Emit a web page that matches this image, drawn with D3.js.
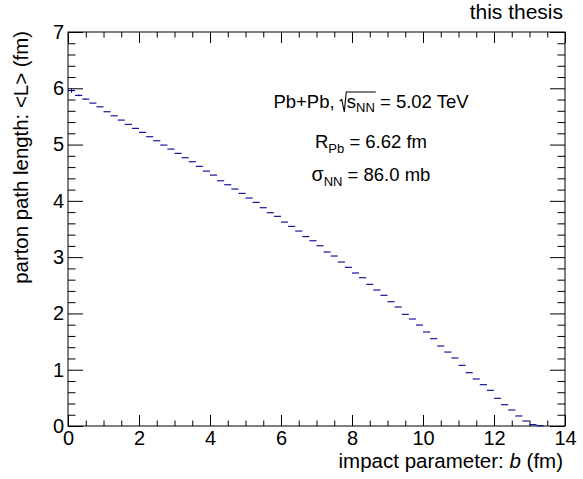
<!DOCTYPE html>
<html><head><meta charset="utf-8">
<script src="https://cdn.jsdelivr.net/npm/d3@7"></script>
<style>body{margin:0;background:#fff}svg{display:block}text{font-family:"Liberation Sans",Arial,Helvetica,sans-serif}</style>
</head><body>
<script>
// bin lower edges of b (fm), bin width 0.2 fm
const binLow = [0.0,0.2,0.4,0.6,0.8,1.0,1.2,1.4,1.6,1.8,2.0,2.2,2.4,2.6,2.8,3.0,3.2,3.4,3.6,3.8,4.0,4.2,4.4,4.6,4.8,5.0,5.2,5.4,5.6,5.8,6.0,6.2,6.4,6.6,6.8,7.0,7.2,7.4,7.6,7.8,8.0,8.2,8.4,8.6,8.8,9.0,9.2,9.4,9.6,9.8,10.0,10.2,10.4,10.6,10.8,11.0,11.2,11.4,11.6,11.8,12.0,12.2,12.4,12.6,12.8,13.0,13.2];
const binWidth = 0.2;
// mean parton path length <L> (fm)
const pathLength = [5.96,5.874,5.808,5.737,5.671,5.583,5.511,5.435,5.359,5.288,5.217,5.139,5.068,4.991,4.920,4.844,4.766,4.695,4.613,4.529,4.458,4.357,4.286,4.210,4.133,4.050,3.973,3.878,3.789,3.725,3.623,3.547,3.464,3.365,3.291,3.202,3.091,3.020,2.913,2.819,2.718,2.634,2.517,2.416,2.322,2.208,2.114,1.984,1.901,1.794,1.670,1.551,1.421,1.314,1.208,1.078,0.947,0.835,0.734,0.634,0.492,0.378,0.284,0.178,0.089,0.024,0.004];
const pathError = [0.04,0.015,0.01];
const xMajorTicks = [0,2,4,6,8,10,12,14];
const yMajorTicks = [0,1,2,3,4,5,6,7];
const xTitle = "impact parameter: ";
const yTitle = "parton path length: <L> (fm)";
const topLabel = "this thesis";

const W = 583, H = 479;
const svg = d3.select("body").append("svg").attr("width", W).attr("height", H);
const x = d3.scaleLinear().domain([0, 14]).range([68, 565]);
const y = d3.scaleLinear().domain([0, 7]).range([426, 32]);

const xMinor = d3.range(0, 14.001, 0.5).filter(v => Math.abs(v/2 - Math.round(v/2)) > 1e-6);
const yMinor = d3.range(0, 7.001, 0.2).filter(v => Math.abs(v - Math.round(v)) > 1e-6);

function styleAxis(g){ g.select(".domain").remove(); g.selectAll("line").attr("stroke","#000").attr("stroke-width",1); }
const FONT = "Liberation Sans, Arial, sans-serif";

// bottom axis
svg.append("g").attr("transform",`translate(0,${y(0)})`)
  .call(d3.axisBottom(x).tickValues(xMajorTicks).tickSize(-11).tickPadding(5).tickFormat(d3.format("d")))
  .call(styleAxis).call(g=>g.selectAll("text").attr("font-size",20).attr("fill","#000").attr("font-family",FONT));
svg.append("g").attr("transform",`translate(0,${y(0)})`)
  .call(d3.axisBottom(x).tickValues(xMinor).tickSize(-5.5).tickFormat("")).call(styleAxis);
// top axis
svg.append("g").attr("transform",`translate(0,${y(7)})`)
  .call(d3.axisTop(x).tickValues(xMajorTicks).tickSize(-11).tickFormat("")).call(styleAxis);
svg.append("g").attr("transform",`translate(0,${y(7)})`)
  .call(d3.axisTop(x).tickValues(xMinor).tickSize(-5.5).tickFormat("")).call(styleAxis);
// left axis
svg.append("g").attr("transform",`translate(${x(0)},0)`)
  .call(d3.axisLeft(y).tickValues(yMajorTicks).tickSize(-15).tickPadding(4).tickFormat(d3.format("d")))
  .call(styleAxis).call(g=>g.selectAll("text").attr("font-size",20).attr("fill","#000").attr("font-family",FONT));
svg.append("g").attr("transform",`translate(${x(0)},0)`)
  .call(d3.axisLeft(y).tickValues(yMinor).tickSize(-7.5).tickFormat("")).call(styleAxis);
// right axis
svg.append("g").attr("transform",`translate(${x(14)},0)`)
  .call(d3.axisRight(y).tickValues(yMajorTicks).tickSize(-15).tickFormat("")).call(styleAxis);
svg.append("g").attr("transform",`translate(${x(14)},0)`)
  .call(d3.axisRight(y).tickValues(yMinor).tickSize(-7.5).tickFormat("")).call(styleAxis);

// frame
svg.append("rect").attr("x",x(0)).attr("y",y(7)).attr("width",x(14)-x(0)).attr("height",y(0)-y(7))
  .attr("fill","none").attr("stroke","#000").attr("stroke-width",1);

// histogram bins
const bins = binLow.map((b,i)=>({b, v:pathLength[i], e:pathError[i]||0}));
const histColor = "#000090";
svg.append("g").selectAll("line.bin").data(bins).join("line")
  .attr("x1",d=>x(d.b)).attr("x2",d=>x(d.b+binWidth))
  .attr("y1",d=>y(d.v)).attr("y2",d=>y(d.v))
  .attr("stroke",histColor).attr("stroke-width",1.1);
svg.append("g").selectAll("line.err").data(bins.filter(d=>d.e>0)).join("line")
  .attr("x1",d=>x(d.b+binWidth/2)).attr("x2",d=>x(d.b+binWidth/2))
  .attr("y1",d=>y(d.v-d.e)).attr("y2",d=>y(d.v+d.e))
  .attr("stroke",histColor).attr("stroke-width",1);

// axis titles
const xt = svg.append("text").attr("x",563).attr("y",468).attr("text-anchor","end").attr("font-size",20.5).attr("fill","#000");
xt.append("tspan").text(xTitle);
xt.append("tspan").attr("font-style","italic").text("b");
xt.append("tspan").text(" (fm)");
svg.append("text").attr("transform","translate(28,31) rotate(-90)").attr("text-anchor","end")
  .attr("font-size",20.4).attr("fill","#000").text(yTitle);
svg.append("text").attr("x",563).attr("y",19).attr("text-anchor","end").attr("font-size",21).attr("fill","#000").text(topLabel);

// annotations
function richLine(cx, baseY, parts){
  const g = svg.append("g");
  let cur = 0;
  parts.forEach(p=>{
    if (p.radical){
      p.start = cur; cur += 7; p.el = g.append("path").attr("fill","none").attr("stroke","#000").attr("stroke-width",1.1);
      return;
    }
    const t = g.append("text").attr("x",cur).attr("y",baseY + (p.dy||0)).attr("font-size",p.size||18.5)
      .attr("fill","#000").text(p.t);
    if (p.family) t.attr("font-family",p.family);
    p.x0 = cur;
    cur += t.node().getComputedTextLength();
    p.x1 = cur;
  });
  parts.filter(p=>p.radical).forEach(p=>{
    const end = d3.max(p.radical, q=>q.x1) + 1;
    const s = p.start, b = baseY;
    p.el.attr("d",`M${s},${b-7} L${s+2},${b-8.5} L${s+4.5},${b+4} L${s+6.5},${b-16} H${end}`);
  });
  g.attr("transform",`translate(${cx - cur/2},0)`);
}
const s1 = {t:"s"}, s2 = {t:"NN", size:13, dy:4};
richLine(371, 108, [{t:"Pb+Pb,\u00a0"}, {radical:[s1,s2]}, s1, s2, {t:"\u00a0= 5.02 TeV"}]);
richLine(371, 148, [{t:"R"}, {t:"Pb", size:13, dy:5}, {t:"\u00a0= 6.62 fm"}]);
richLine(371, 181, [{t:"σ", family:"Liberation Serif, serif", size:19.5}, {t:"NN", size:13, dy:5}, {t:"\u00a0= 86.0 mb"}]);
</script>
</body></html>
